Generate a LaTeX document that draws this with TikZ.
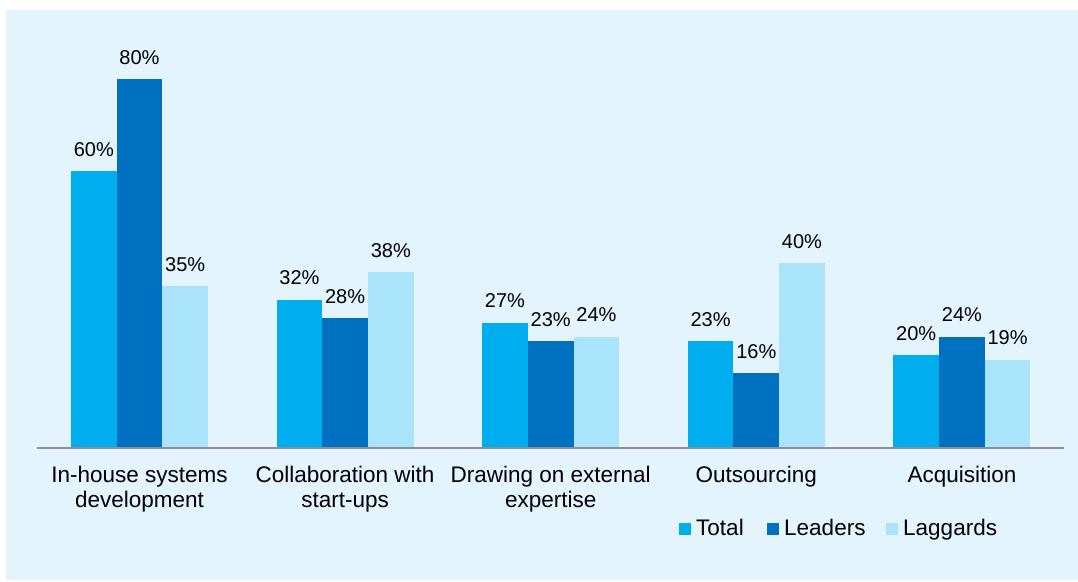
\documentclass[tikz,border=0pt]{standalone}
\usepackage{fontspec}
\setmainfont{Liberation Sans}
\definecolor{bgc}{HTML}{E3F4FC}
\definecolor{ctotal}{HTML}{00AEEF}
\definecolor{cleaders}{HTML}{0070C0}
\definecolor{claggards}{HTML}{A9E4FB}
\definecolor{axisc}{HTML}{909090}
\begin{document}
\begin{tikzpicture}[x=1pt,y=-1pt,
  valuelabel/.style={anchor=base,inner sep=0pt,font=\fontsize{20}{22}\selectfont},
  catlabel/.style={anchor=north,inner sep=0pt,align=center,font=\fontsize{22.5}{24.5}\selectfont},
  legendtext/.style={anchor=base west,inner sep=0pt,font=\fontsize{22.5}{24.5}\selectfont},
  barbox/.style={inner sep=0pt,outer sep=0pt,minimum width=45.7pt,anchor=south},
  legendsq/.style={inner sep=0pt,minimum size=12pt,anchor=center}]
\useasboundingbox (0,0) rectangle (1078,581);
\fill[bgc] (6,10) rectangle (1078,580);
\foreach \i/\vt/\vl/\vg/\name in {0/60/80/35/In-house systems\\development,
                               1/32/28/38/Collaboration with\\start-ups,
                               2/27/23/24/Drawing on external\\expertise,
                               3/23/16/40/Outsourcing,
                               4/20/24/19/Acquisition}{
  \pgfmathsetmacro{\cx}{139.5+205.6*\i}
  \pgfmathsetmacro{\hvt}{4.6*\vt}
  \pgfmathsetmacro{\hvl}{4.6*\vl}
  \pgfmathsetmacro{\hvg}{4.6*\vg}
  \node[barbox,fill=ctotal,minimum height=\hvt pt] (t\i) at (\cx-45.7,447) {};
  \node[barbox,fill=cleaders,minimum height=\hvl pt] (l\i) at (\cx,447) {};
  \node[barbox,fill=claggards,minimum height=\hvg pt] (g\i) at (\cx+45.7,447) {};
  \node[valuelabel] (vt\i) at ([yshift=15pt]t\i.north) {\vt\%};
  \node[valuelabel] (vl\i) at ([yshift=15pt]l\i.north) {\vl\%};
  \node[valuelabel] (vg\i) at ([yshift=15pt]g\i.north) {\vg\%};
  \node[catlabel] (cat\i) at (\cx,466) {\name};
}
\coordinate (axL) at (37,447.5);
\coordinate (axR) at (1064,447.5);
\draw[axisc,line width=2pt] (axL) -- (axR);
\node[legendsq,fill=ctotal] (sqt) at (685,529) {};
\node[legendtext] (lt) at (696,535) {Total};
\node[legendsq,fill=cleaders] (sql) at (773,529) {};
\node[legendtext] (ll) at (784,535) {Leaders};
\node[legendsq,fill=claggards] (sqg) at (892,529) {};
\node[legendtext] (lg) at (903,535) {Laggards};
\end{tikzpicture}
\end{document}
